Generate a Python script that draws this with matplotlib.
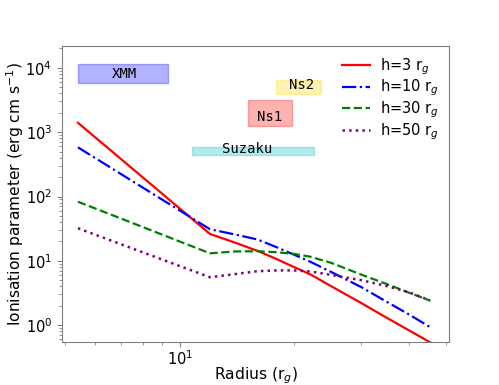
import matplotlib
matplotlib.use("Agg")
import matplotlib.pyplot as plt
from matplotlib.patches import Rectangle
import numpy as np

# radius grid (r_g)
radius = [5.4, 12, 14, 16, 18, 20, 22, 25, 30, 35, 40, 45.5]

# ionisation parameter for each source height
xi_h3 = [1400, 26.2, 19.1, 14.3, 10.6, 7.96, 6.19, 4.03, 2.2, 1.3, 0.83, 0.54]
xi_h10 = [581, 31.0, 25.6, 21.5, 16.2, 12.4, 9.72, 6.7, 3.9, 2.3, 1.47, 0.93]
xi_h30 = [83, 13.1, 14.0, 14.1, 13.6, 12.8, 11.6, 9.3, 6.1, 4.35, 3.2, 2.41]
xi_h50 = [32.1, 5.56, 6.24, 6.9, 7.1, 7.1, 6.85, 6.04, 5.0, 4.05, 3.25, 2.41]

labels = [r"h=3 r$_g$", r"h=10 r$_g$", r"h=30 r$_g$", r"h=50 r$_g$"]

# observed ranges: (r_min, r_max, xi_min, xi_max)
obs_names = ["XMM", "Ns2", "Ns1", "Suzaku"]
obs_boxes = [(5.4, 9.3, 5800, 11500),
             (17.9, 23.5, 3950, 6440),
             (15.1, 19.7, 1240, 3220),
             (10.75, 22.5, 435, 593)]
obs_text = [(7.17, 7980), (20.9, 5390), (17.2, 1730), (15.0, 541)]
obs_colors = ["blue", "gold", "red", "c"]

fig = plt.figure(figsize=(4.99, 3.85), dpi=100)
ax = fig.add_axes([0.124, 0.112, 0.776, 0.769])

ax.plot(radius, xi_h3, 'r-', lw=1.6, label=labels[0])
ax.plot(radius, xi_h10, 'b-.', lw=1.6, label=labels[1])
ax.plot(radius, xi_h30, 'g--', lw=1.6, label=labels[2])
ax.plot(radius, xi_h50, color='purple', ls=':', lw=1.8, label=labels[3])

for name, b, t, c in zip(obs_names, obs_boxes, obs_text, obs_colors):
    ax.add_patch(Rectangle((b[0], b[2]), b[1] - b[0], b[3] - b[2],
                           facecolor=c, edgecolor=c, alpha=0.3, lw=1))
    ax.text(t[0], t[1], name, family='DejaVu Sans Mono', fontsize=10,
            ha='center', va='center')

ax.set_xscale('log')
ax.set_yscale('log')
ax.set_xlim(4.9, 51)
ax.set_ylim(0.55, 2.2e4)

ax.set_xlabel(r"Radius (r$_g$)", fontsize=11.2)
ax.set_ylabel(r"Ionisation parameter (erg cm s$^{-1}$)", fontsize=11.2)
ax.xaxis.set_label_coords(0.5, -0.08)
ax.yaxis.set_label_coords(-0.093, 0.5)
ax.tick_params(labelsize=10.5, colors='gray', labelcolor='black', which='both')
ax.tick_params(axis='x', pad=2)
for s in ax.spines.values():
    s.set_color('gray')

ax.legend(loc='upper right', frameon=False, fontsize=10.5, handlelength=1.9,
          labelspacing=0.08, borderaxespad=0.3, handletextpad=0.7)

plt.savefig("out.png", dpi=100)
